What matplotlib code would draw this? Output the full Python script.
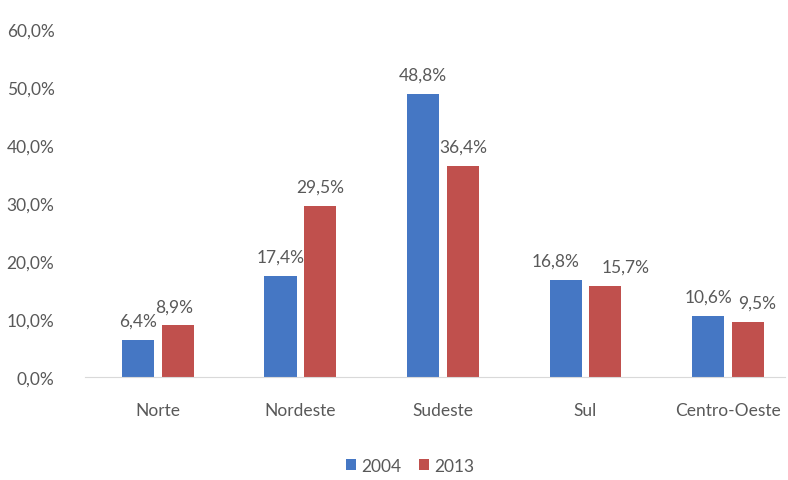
import matplotlib.pyplot as plt
import numpy as np

# Data
regioes = ["Norte", "Nordeste", "Sudeste", "Sul", "Centro-Oeste"]
v2004 = [6.4, 17.4, 48.8, 16.8, 10.6]
v2013 = [8.9, 29.5, 36.4, 15.7, 9.5]
anos = ["2004", "2013"]

# little horizontal nudges of the value labels (pixels), as in the original
desloc_2004 = [0, 0, 0, -10, 0]
desloc_2013 = [-4, 0, 0, 20, 9]

plt.rcParams['font.family'] = ['Lato', 'DejaVu Sans']
cinza = "#595959"
azul = "#4577C4"
verm = "#C0504D"
fs = 12.5

fig = plt.figure(figsize=(7.88, 4.81), dpi=100)
ax = fig.add_axes([85/788, 1-378/481, 700/788, 348/481])

x = np.arange(len(regioes))
w = 0.225
off = 0.14
b1 = ax.bar(x - off, v2004, w, color=azul, label=anos[0])
b2 = ax.bar(x + off, v2013, w, color=verm, label=anos[1])

for bars, vals, desl in [(b1, v2004, desloc_2004), (b2, v2013, desloc_2013)]:
    for b, v, d in zip(bars, vals, desl):
        ax.annotate(f"{v:.1f}%".replace(".", ","), (b.get_x() + b.get_width()/2, v),
                    xytext=(d, 11), textcoords="offset pixels",
                    ha="center", va="bottom", fontsize=fs, color=cinza)

ax.set_ylim(0, 60)
ax.set_xlim(-0.512, 4.4)
ax.set_yticks(range(0, 61, 10))
ax.set_yticklabels([f"{t},0%" for t in range(0, 61, 10)])
ax.set_xticks(x)
ax.set_xticklabels(regioes)
ax.tick_params(axis="both", length=0, labelsize=fs, colors=cinza)
ax.tick_params(axis="y", pad=22)
ax.tick_params(axis="x", pad=18)

for s in ["top", "right", "left"]:
    ax.spines[s].set_visible(False)
ax.spines["bottom"].set_color("#D9D9D9")

fig.legend(loc="center", bbox_to_anchor=(410/788, 1-467/481), ncol=2,
           frameon=False, fontsize=fs, labelcolor=cinza,
           handlelength=0.6, handleheight=0.6, handletextpad=0.3, columnspacing=1.0)

fig.savefig("out.png", dpi=100)
